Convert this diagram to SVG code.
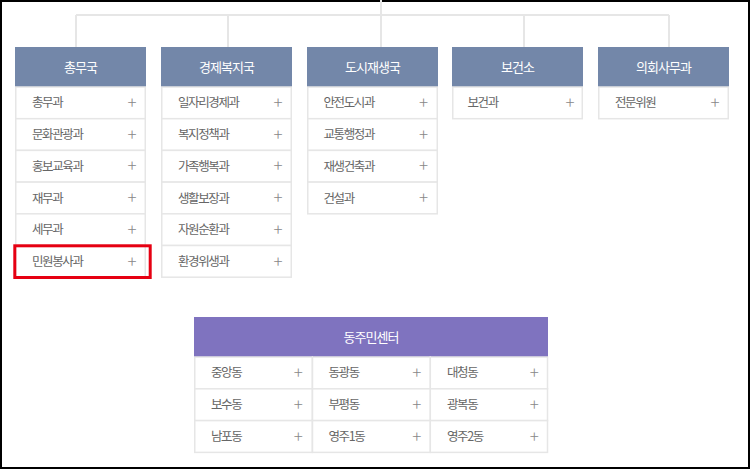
<svg xmlns="http://www.w3.org/2000/svg" width="750" height="469" viewBox="0 0 750 469">
<style>
.frame{fill:#fff;stroke:#000;stroke-width:2}
.ln{stroke:#e6e6e6;stroke-width:2;fill:none}
.hd{fill:#7387a9}
.hdp{fill:#7f73bf}
.ht{font-family:"Noto Sans CJK KR","Noto Sans",sans-serif;font-size:13px;fill:#fff;text-anchor:middle;letter-spacing:-1px}
.cell{fill:#fff;stroke:#e6e6e6;stroke-width:1.5}
.ct{font-family:"Noto Sans CJK KR","Noto Sans",sans-serif;font-size:12.5px;fill:#666;letter-spacing:-1.4px}
.pl{font-family:"Noto Sans CJK KR","Noto Sans",sans-serif;font-size:17px;font-weight:300;fill:#888;text-anchor:middle}
.hl{fill:none;stroke:#e60012;stroke-width:3}
</style>
<rect class="frame" x="1" y="1" width="748" height="467"/>
<g id="connectors">
<path class="ln" d="M381 0V47M76 15H669M76 15V47M228 15V47M524 15V47M669 15V47"/>
</g>
<g id="col-chongmu">
<rect class="hd" x="15" y="47" width="131" height="40"/>
<text class="ht" x="80.5" y="72">총무국</text>
<rect class="cell" x="15.75" y="87" width="129.5" height="31.7"/>
<rect class="cell" x="15.75" y="118.7" width="129.5" height="31.7"/>
<rect class="cell" x="15.75" y="150.4" width="129.5" height="31.7"/>
<rect class="cell" x="15.75" y="182.1" width="129.5" height="31.7"/>
<rect class="cell" x="15.75" y="213.8" width="129.5" height="31.7"/>
<rect class="cell" x="15.75" y="245.5" width="129.5" height="31.7"/>
<text class="ct" x="32" y="107.4">총무과</text><text class="pl" x="132" y="109">+</text>
<text class="ct" x="32" y="139.1">문화관광과</text><text class="pl" x="132" y="140.7">+</text>
<text class="ct" x="32" y="170.8">홍보교육과</text><text class="pl" x="132" y="172.4">+</text>
<text class="ct" x="32" y="202.5">재무과</text><text class="pl" x="132" y="204.1">+</text>
<text class="ct" x="32" y="234.2">세무과</text><text class="pl" x="132" y="235.8">+</text>
<text class="ct" x="32" y="265.9">민원봉사과</text><text class="pl" x="132" y="267.5">+</text>
<rect class="hl" x="14.8" y="245.8" width="135.4" height="31.7"/>
</g>
<g id="col-gyeongje">
<rect class="hd" x="161" y="47" width="131" height="40"/>
<text class="ht" x="226.5" y="72">경제복지국</text>
<rect class="cell" x="161.75" y="87" width="129.5" height="31.7"/>
<rect class="cell" x="161.75" y="118.7" width="129.5" height="31.7"/>
<rect class="cell" x="161.75" y="150.4" width="129.5" height="31.7"/>
<rect class="cell" x="161.75" y="182.1" width="129.5" height="31.7"/>
<rect class="cell" x="161.75" y="213.8" width="129.5" height="31.7"/>
<rect class="cell" x="161.75" y="245.5" width="129.5" height="31.7"/>
<text class="ct" x="178" y="107.4">일자리경제과</text><text class="pl" x="278" y="109">+</text>
<text class="ct" x="178" y="139.1">복지정책과</text><text class="pl" x="278" y="140.7">+</text>
<text class="ct" x="178" y="170.8">가족행복과</text><text class="pl" x="278" y="172.4">+</text>
<text class="ct" x="178" y="202.5">생활보장과</text><text class="pl" x="278" y="204.1">+</text>
<text class="ct" x="178" y="234.2">자원순환과</text><text class="pl" x="278" y="235.8">+</text>
<text class="ct" x="178" y="265.9">환경위생과</text><text class="pl" x="278" y="267.5">+</text>
</g>
<g id="col-dosi">
<rect class="hd" x="307" y="47" width="131" height="40"/>
<text class="ht" x="372.5" y="72">도시재생국</text>
<rect class="cell" x="307.75" y="87" width="129.5" height="31.7"/>
<rect class="cell" x="307.75" y="118.7" width="129.5" height="31.7"/>
<rect class="cell" x="307.75" y="150.4" width="129.5" height="31.7"/>
<rect class="cell" x="307.75" y="182.1" width="129.5" height="31.7"/>
<text class="ct" x="323.5" y="107.4">안전도시과</text><text class="pl" x="423.5" y="109">+</text>
<text class="ct" x="323.5" y="139.1">교통행정과</text><text class="pl" x="423.5" y="140.7">+</text>
<text class="ct" x="323.5" y="170.8">재생건축과</text><text class="pl" x="423.5" y="172.4">+</text>
<text class="ct" x="323.5" y="202.5">건설과</text><text class="pl" x="423.5" y="204.1">+</text>
</g>
<g id="col-bogeon">
<rect class="hd" x="452" y="47" width="131" height="40"/>
<text class="ht" x="517.5" y="72">보건소</text>
<rect class="cell" x="452.75" y="87" width="129.5" height="31.7"/>
<text class="ct" x="467.5" y="107.4">보건과</text><text class="pl" x="570" y="109">+</text>
</g>
<g id="col-uihoe">
<rect class="hd" x="598" y="47" width="131" height="40"/>
<text class="ht" x="663.5" y="72">의회사무과</text>
<rect class="cell" x="598.75" y="87" width="129.5" height="31.7"/>
<text class="ct" x="615" y="107.4">전문위원</text><text class="pl" x="715" y="109">+</text>
</g>
<g id="dong-center">
<rect class="hdp" x="194" y="317" width="354" height="40"/>
<text class="ht" x="371" y="342">동주민센터</text>
<rect class="cell" x="194.75" y="357" width="117.5" height="31.8"/>
<rect class="cell" x="312.5" y="357" width="117.8" height="31.8"/>
<rect class="cell" x="430.3" y="357" width="117.2" height="31.8"/>
<rect class="cell" x="194.75" y="388.8" width="117.5" height="31.8"/>
<rect class="cell" x="312.5" y="388.8" width="117.8" height="31.8"/>
<rect class="cell" x="430.3" y="388.8" width="117.2" height="31.8"/>
<rect class="cell" x="194.75" y="420.6" width="117.5" height="31.8"/>
<rect class="cell" x="312.5" y="420.6" width="117.8" height="31.8"/>
<rect class="cell" x="430.3" y="420.6" width="117.2" height="31.8"/>
<text class="ct" x="211" y="377.4">중앙동</text><text class="pl" x="298.3" y="379">+</text>
<text class="ct" x="328.5" y="377.4">동광동</text><text class="pl" x="416.7" y="379">+</text>
<text class="ct" x="447" y="377.4">대청동</text><text class="pl" x="534.3" y="379">+</text>
<text class="ct" x="211" y="409.2">보수동</text><text class="pl" x="298.3" y="410.8">+</text>
<text class="ct" x="328.5" y="409.2">부평동</text><text class="pl" x="416.7" y="410.8">+</text>
<text class="ct" x="447" y="409.2">광복동</text><text class="pl" x="534.3" y="410.8">+</text>
<text class="ct" x="211" y="441">남포동</text><text class="pl" x="298.3" y="442.6">+</text>
<text class="ct" x="328.5" y="441">영주1동</text><text class="pl" x="416.7" y="442.6">+</text>
<text class="ct" x="447" y="441">영주2동</text><text class="pl" x="534.3" y="442.6">+</text>
</g>
</svg>
